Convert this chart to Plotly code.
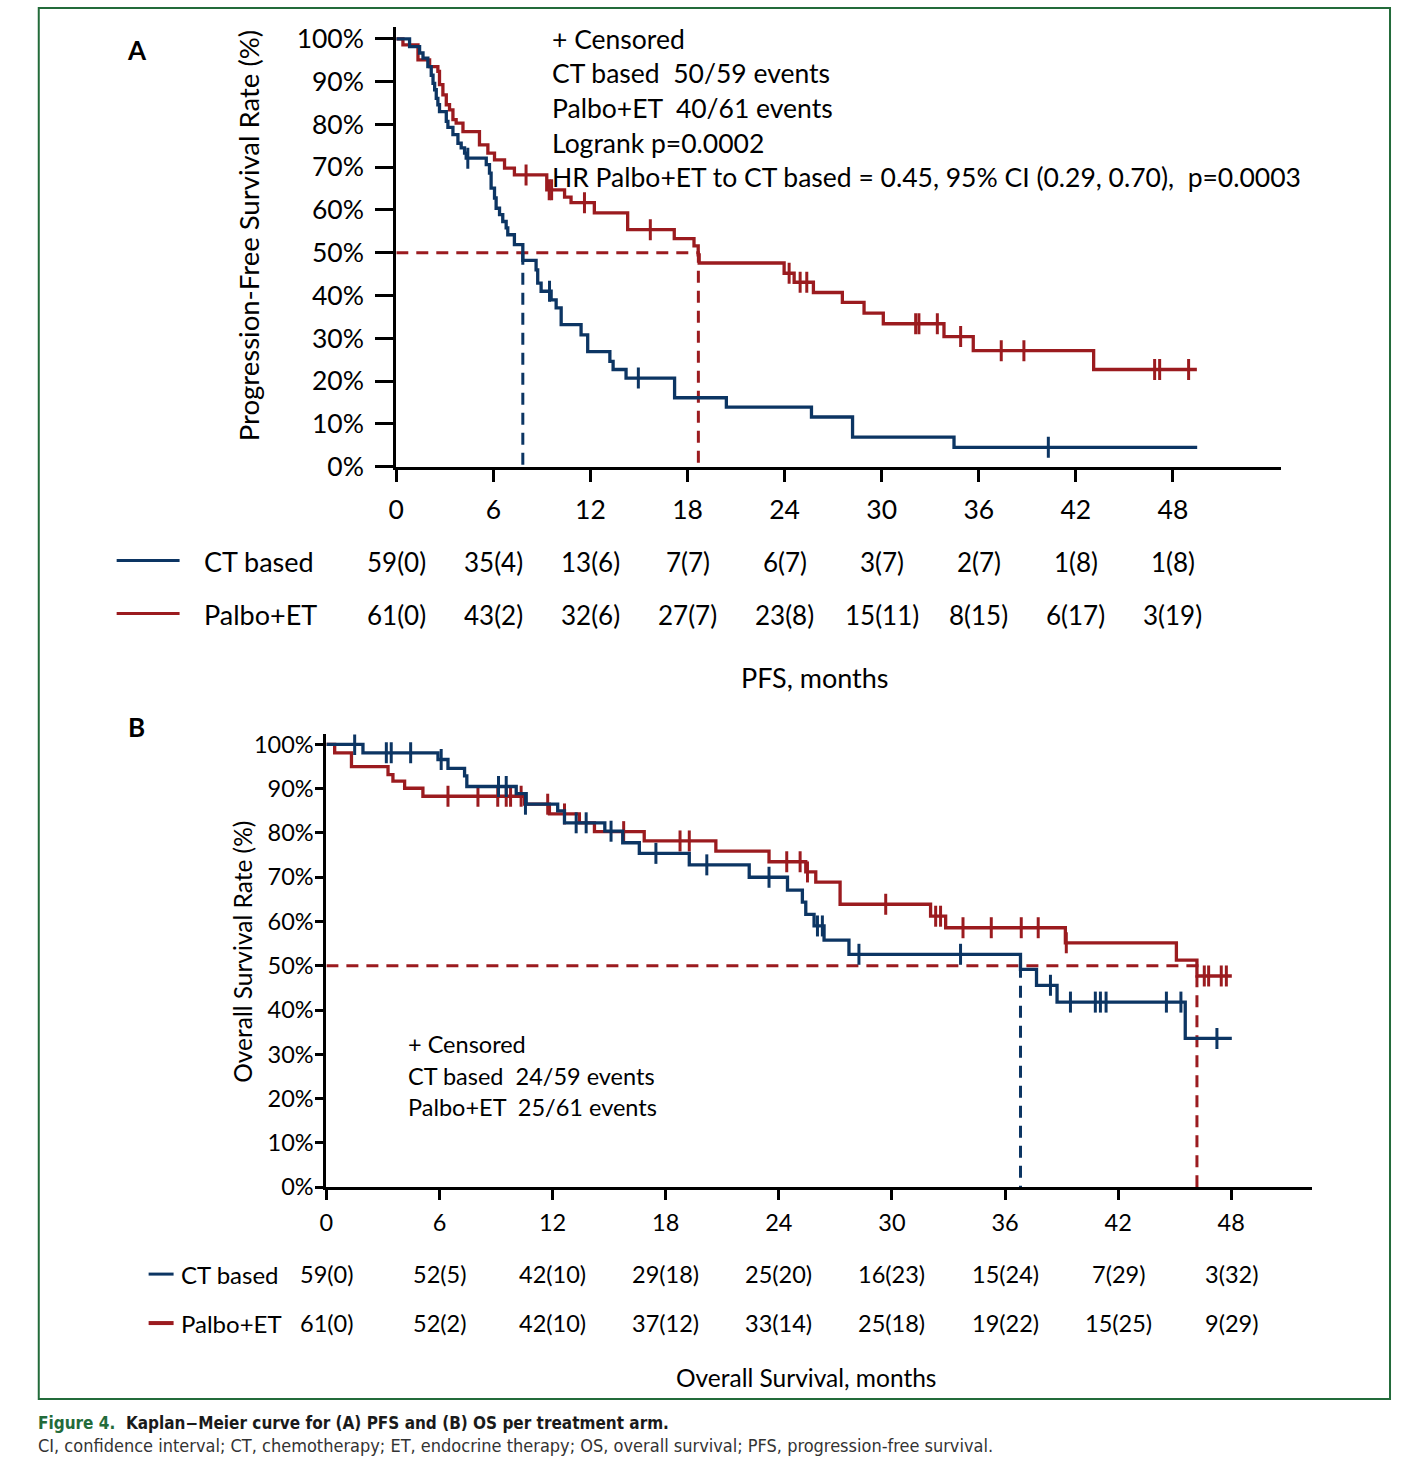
import plotly.graph_objects as go

W, H = 1408, 1468
BLUE = "#0c3563"
RED = "#9b1b1f"
GREEN = "#236b3a"
FONT = "Lato, 'Open Sans', sans-serif"
CAPFONT = "'Liberation Sans Narrow', 'DejaVu Sans Condensed', 'Roboto Condensed', sans-serif"

# ---------------- Panel A: PFS ----------------
pfs_ct_t = [0, 0.82, 1.44, 1.65, 1.95, 2.16, 2.27, 2.37, 2.47, 2.57, 2.67, 3.09, 3.19, 3.50,
            3.81, 4.01, 4.22, 4.32, 5.56, 5.76, 5.86, 6.07, 6.17, 6.38, 6.58, 6.79, 6.89, 7.30,
            7.82, 8.64, 8.74, 8.95, 9.57, 9.88, 10.19, 11.42, 11.83, 13.2, 13.4, 14.2, 17.2,
            20.4, 25.66, 28.2, 34.47, 49.5]
pfs_ct_s = [100, 98.2, 96.7, 95.5, 93.5, 91.5, 89.6, 88.1, 86.1, 84.6, 83.0, 80.7, 79.3, 77.6,
            75.6, 74.5, 73.3, 72.1, 70.6, 68.6, 65.1, 62.8, 60.4, 58.9, 57.3, 55.8, 54.2, 51.9,
            48.2, 46.0, 42.9, 41.0, 39.0, 37.1, 33.2, 30.8, 26.9, 24.6, 22.7, 20.7, 16.1,
            13.9, 11.6, 6.9, 4.5, 4.5]
pfs_ct_cens_t = [4.42, 9.47, 14.96, 40.3]
pfs_ct_cens_s = [72.1, 41.0, 20.7, 4.5]

pfs_pa_t = [0, 0.41, 1.34, 2.06, 2.57, 2.67, 2.88, 3.09, 3.29, 3.50, 3.70, 4.12, 5.14, 5.66,
            6.07, 6.69, 7.30, 9.3, 10.4, 10.8, 12.24, 14.3, 17.18, 18.4, 18.66, 18.72, 23.97,
            24.59, 25.78, 27.57, 28.91, 30.1, 33.85, 35.66, 43.1, 49.48]
pfs_pa_s = [100, 98.6, 95.1, 93.5, 92.4, 89.3, 86.9, 84.6, 83.4, 81.1, 80.3, 78.3, 75.2, 73.3,
            71.7, 69.8, 68.2, 64.7, 63.0, 61.7, 59.3, 55.4, 53.3, 51.6, 49.5, 47.6, 45.2,
            43.1, 40.7, 38.4, 35.9, 33.4, 30.4, 27.1, 22.7, 22.7]
pfs_pa_cens_t = [8.02, 9.45, 9.6, 11.63, 15.7, 24.28, 24.96, 25.37, 32.1, 32.3, 33.44, 34.88,
                 37.39, 38.79, 46.87, 47.18, 48.97]
pfs_pa_cens_s = [68.2, 64.7, 64.7, 61.7, 55.4, 45.2, 43.1, 43.1, 33.4, 33.4, 33.4, 30.4,
                 27.1, 27.1, 22.7, 22.7, 22.7]

pfs_median_ct = 7.82
pfs_median_pa = 18.67

risk_months = [0, 6, 12, 18, 24, 30, 36, 42, 48]
pfs_risk_ct = ["59(0)", "35(4)", "13(6)", "7(7)", "6(7)", "3(7)", "2(7)", "1(8)", "1(8)"]
pfs_risk_pa = ["61(0)", "43(2)", "32(6)", "27(7)", "23(8)", "15(11)", "8(15)", "6(17)", "3(19)"]

pfs_text = ["+ Censored",
            "CT based&nbsp; 50/59 events",
            "Palbo+ET&nbsp; 40/61 events",
            "Logrank p=0.0002",
            "HR Palbo+ET to CT based = 0.45, 95% CI (0.29, 0.70),&nbsp; p=0.0003"]

# ---------------- Panel B: OS ----------------
os_ct_t = [0, 1.94, 5.92, 6.45, 7.33, 7.45, 10.07, 10.6, 12.27, 12.63, 14.77, 15.72, 16.6,
           19.25, 22.43, 24.46, 25.25, 25.43, 25.87, 26.4, 27.72, 36.82, 37.67, 38.76, 45.56, 48.03]
os_ct_s = [100, 98.1, 96.6, 94.6, 92.9, 90.5, 88.9, 86.5, 85.0, 82.3, 80.4, 77.8, 75.4,
           72.8, 70.0, 67.1, 64.4, 61.6, 59.0, 55.8, 52.6, 49.2, 45.6, 41.8, 33.6, 33.6]
os_ct_cens_t = [1.50, 3.18, 3.44, 4.47, 6.09, 9.13, 9.54, 10.56, 13.25, 13.78, 15.1, 17.48,
                20.18, 23.48, 26.05, 26.31, 28.25, 33.64, 38.41, 39.47, 40.79, 41.06, 41.36,
                44.56, 45.33, 47.24]
os_ct_cens_s = [100, 98.1, 98.1, 98.1, 96.6, 90.5, 90.5, 86.5, 82.3, 82.3, 80.4, 75.4,
                72.8, 70.0, 59.0, 59.0, 52.6, 52.6, 45.6, 41.8, 41.8, 41.8, 41.8,
                41.8, 41.8, 33.6]

os_pa_t = [0, 0.44, 1.33, 3.27, 3.53, 4.15, 5.12, 10.51, 11.83, 13.42, 14.22, 16.86, 20.66,
           23.48, 25.43, 25.96, 27.25, 32.05, 32.85, 39.2, 45.09, 46.18, 48.03]
os_pa_s = [100, 98.1, 95.0, 93.2, 91.7, 90.1, 88.3, 86.5, 84.3, 82.3, 80.3, 78.2, 75.9,
           73.5, 71.2, 68.9, 63.9, 61.2, 58.6, 55.2, 51.3, 47.7, 47.7]
os_pa_cens_t = [6.45, 8.04, 9.09, 9.54, 9.77, 10.33, 11.74, 12.63, 15.77, 18.76, 19.25, 24.42,
                25.13, 25.52, 29.67, 32.32, 32.58, 33.77, 35.27, 36.86, 37.76, 39.25, 46.57,
                46.8, 47.47, 47.74]
os_pa_cens_s = [88.3, 88.3, 88.3, 88.3, 88.3, 88.3, 86.5, 84.3, 80.3, 78.2, 78.2, 73.5,
                73.5, 71.2, 63.9, 61.2, 61.2, 58.6, 58.6, 58.6, 58.6, 55.2, 47.7,
                47.7, 47.7, 47.7]

os_median_ct = 36.82
os_median_pa = 46.18

os_risk_ct = ["59(0)", "52(5)", "42(10)", "29(18)", "25(20)", "16(23)", "15(24)", "7(29)", "3(32)"]
os_risk_pa = ["61(0)", "52(2)", "42(10)", "37(12)", "33(14)", "25(18)", "19(22)", "15(25)", "9(29)"]

os_text = ["+ Censored", "CT based&nbsp; 24/59 events", "Palbo+ET&nbsp; 25/61 events"]

arm_names = ["CT based", "Palbo+ET"]
pct_ticks = list(range(0, 101, 10))
pct_labels = [f"{v}%" for v in pct_ticks]

# page-to-photo correction measured from the previous renders
AX, BX = 0.9956, 6.2
AY, BY = 0.987, 5.1


def X(px):
    return (px - BX) / AX / W


def Y(py):
    return 1 - (py - BY) / AY / H


fig = go.Figure()


def add_dash(xs, ys, color, xa, ya, dash):
    fig.add_trace(go.Scatter(x=xs, y=ys, mode="lines", xaxis=xa, yaxis=ya, showlegend=False,
                             hoverinfo="skip", line=dict(color=color, width=3, dash=dash)))


def add_curve(t, s, ct, cs, color, xa, ya, w, msize):
    fig.add_trace(go.Scatter(x=t, y=s, mode="lines", xaxis=xa, yaxis=ya, showlegend=False,
                             line=dict(color=color, width=w, shape="hv")))
    fig.add_trace(go.Scatter(x=ct, y=cs, mode="markers", xaxis=xa, yaxis=ya, showlegend=False,
                             marker=dict(symbol="line-ns", size=msize,
                                         line=dict(color=color, width=3))))


# Panel A medians
add_dash([0, pfs_median_pa, pfs_median_pa], [50, 50, 0], RED, "x", "y", "12px,8px")
add_dash([pfs_median_ct, pfs_median_ct], [50, 0], BLUE, "x", "y", "12px,8px")
add_curve(pfs_pa_t, pfs_pa_s, pfs_pa_cens_t, pfs_pa_cens_s, RED, "x", "y", 3.3, 15)
add_curve(pfs_ct_t, pfs_ct_s, pfs_ct_cens_t, pfs_ct_cens_s, BLUE, "x", "y", 3.3, 15)

# Panel B medians
add_dash([0, os_median_pa, os_median_pa], [50, 50, 0], RED, "x2", "y2", "12px,8px")
add_dash([os_median_ct, os_median_ct], [50, 0], BLUE, "x2", "y2", "12px,8px")
add_curve(os_pa_t, os_pa_s, os_pa_cens_t, os_pa_cens_s, RED, "x2", "y2", 3.3, 15)
add_curve(os_ct_t, os_ct_s, os_ct_cens_t, os_ct_cens_s, BLUE, "x2", "y2", 3.3, 15)

common = dict(showline=True, linecolor="black", showgrid=False, zeroline=False,
              ticks="outside", tickcolor="black", tickwidth=3, fixedrange=True)

fig.update_layout(
    width=W, height=H, margin=dict(l=0, r=0, t=0, b=0), autosize=False,
    paper_bgcolor="white", plot_bgcolor="white",
    font=dict(family=FONT, color="black"),
    xaxis=dict(domain=[X(395), X(1281)], range=[0, 54.69], tickvals=risk_months,
               ticklen=12, linewidth=3, tickfont=dict(size=26.5), ticklabelstandoff=6,
               anchor="y", **common),
    yaxis=dict(domain=[Y(467), Y(27)], range=[0, 102.8], tickvals=pct_ticks, ticktext=pct_labels,
               ticklen=18, linewidth=3, tickfont=dict(size=26.5), ticklabelstandoff=6,
               anchor="x", **common),
    xaxis2=dict(domain=[X(325), X(1312)], range=[0, 52.29], tickvals=risk_months,
                ticklen=10, linewidth=3, tickfont=dict(size=23.5), ticklabelstandoff=3,
                anchor="y2", **common),
    yaxis2=dict(domain=[Y(1188), Y(735)], range=[0, 102.26], tickvals=pct_ticks, ticktext=pct_labels,
                ticklen=8, linewidth=3, tickfont=dict(size=23.5), ticklabelstandoff=-3,
                anchor="x2", **common),
)

ann = []


def txt(x, y, s, size, xanchor="left", xref="paper", **kw):
    ann.append(dict(x=x, y=y, xref=xref, yref="paper", text=s, showarrow=False,
                    xanchor=xanchor, yanchor="middle", font=dict(size=size, family=FONT,
                                                                color=kw.pop("color", "black")),
                    **kw))


# Panel labels
txt(X(135), Y(50), "<b>A</b>", 26, xanchor="center")
txt(X(135), Y(728), "<b>B</b>", 26, xanchor="center")

# Axis titles
txt(X(247), Y(236), "Progression-Free Survival Rate (%)", 27.5, xanchor="center", textangle=-90)
txt(X(241), Y(952), "Overall Survival Rate (%)", 24.5, xanchor="center", textangle=-90)

# Panel A text block
for i, line in enumerate(pfs_text):
    txt(X(549), Y([39, 73, 108, 143, 177][i]), line, 26.5)

# Panel B text block
for i, line in enumerate(os_text):
    txt(X(405), Y([1045, 1077, 1108][i]), line, 23.5)

# Risk tables
for row_y, name, vals in [(562, arm_names[0], pfs_risk_ct), (615, arm_names[1], pfs_risk_pa)]:
    txt(X(200), Y(row_y), name, 27)
    for m, v in zip(risk_months, vals):
        txt(m, Y(row_y), v, 26, xanchor="center", xref="x")
txt(X(814), Y(678), "PFS, months", 27, xanchor="center")

for row_y, name, vals in [(1275, arm_names[0], os_risk_ct), (1324, arm_names[1], os_risk_pa)]:
    txt(X(177), Y(row_y), name, 24)
    for m, v in zip(risk_months, vals):
        txt(m, Y(row_y), v, 23.5, xanchor="center", xref="x2")
txt(X(805), Y(1378), "Overall Survival, months", 24.5, xanchor="center")

# Caption
ann.append(dict(x=X(34), y=Y(1424), xref="paper", yref="paper", showarrow=False,
                xanchor="left", yanchor="middle",
                text=f"<b><span style='color:{GREEN}'>Figure 4.</span>&nbsp; Kaplan\u2212Meier curve for (A) PFS and (B) OS per treatment arm.</b>",
                font=dict(size=17, family=CAPFONT, color="#1a1a1a")))
ann.append(dict(x=X(34), y=Y(1447), xref="paper", yref="paper", showarrow=False,
                xanchor="left", yanchor="middle",
                text="CI, confidence interval; CT, chemotherapy; ET, endocrine therapy; OS, overall survival; PFS, progression-free survival.",
                font=dict(size=18, family=CAPFONT, color="#333333")))

fig.update_layout(annotations=ann)

shapes = [
    dict(type="rect", xref="paper", yref="paper", x0=X(37), x1=X(1390), y0=Y(1400), y1=Y(8),
         line=dict(color=GREEN, width=2), fillcolor="rgba(0,0,0,0)"),
    dict(type="line", xref="paper", yref="paper", x0=X(115), x1=X(178), y0=Y(561), y1=Y(561),
         line=dict(color=BLUE, width=3)),
    dict(type="line", xref="paper", yref="paper", x0=X(115), x1=X(178), y0=Y(614), y1=Y(614),
         line=dict(color=RED, width=3)),
    dict(type="line", xref="paper", yref="paper", x0=X(147), x1=X(172), y0=Y(1275), y1=Y(1275),
         line=dict(color=BLUE, width=3)),
    dict(type="line", xref="paper", yref="paper", x0=X(147), x1=X(172), y0=Y(1324), y1=Y(1324),
         line=dict(color=RED, width=4)),
]
fig.update_layout(shapes=shapes)

fig.write_html("out.html",
               post_script="document.body.style.margin='0';document.body.style.padding='0';"
                           "document.body.style.overflow='hidden';")
